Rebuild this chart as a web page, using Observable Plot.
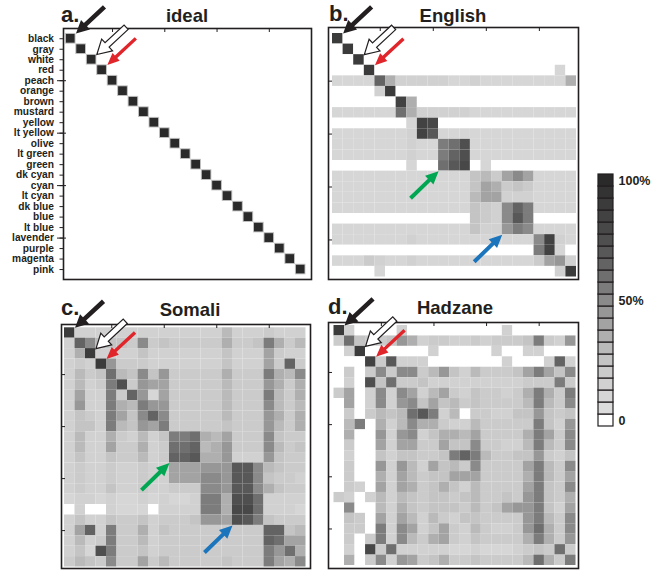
<!DOCTYPE html>
<html><head><meta charset="utf-8">
<script src="https://cdn.jsdelivr.net/npm/d3@7"></script>
<script src="https://cdn.jsdelivr.net/npm/@observablehq/plot@0.6"></script>
<style>
body{margin:0;background:#fff;font-family:"Liberation Sans",Arial,sans-serif;}
#root{position:relative;width:651px;height:573px;overflow:hidden;background:#fff;}
.t{position:absolute;font-weight:bold;color:#231f20;white-space:nowrap;}
</style></head><body><div id="root"></div>
<script>
// ---------- data ----------
const colorNames = ["black","gray","white","red","peach","orange","brown","mustard","yellow","lt yellow","olive","lt green","green","dk cyan","cyan","lt cyan","dk blue","blue","lt blue","lavender","purple","magenta","pink"];
const majorTickNames = ["peach","lt yellow","cyan","lavender"];
const idealDiagonal = [100,100,100,100,100,100,100,100,100,100,100,100,100,100,100,100,100,100,100,100,100,100,100];

const english = [
[90,0,0,0,0,0,0,0,0,0,0,0,0,0,0,0,0,0,0,0,0,0,0],
[0,90,0,0,0,0,0,0,0,0,0,0,0,0,0,0,0,0,0,0,0,0,0],
[0,0,90,0,0,0,0,0,0,0,0,0,0,0,0,0,0,0,0,0,0,0,0],
[0,0,0,90,0,0,0,0,0,0,0,0,0,0,0,0,0,0,0,0,0,10,0],
[10,10,10,10,65,35,15,15,15,15,15,10,10,15,10,10,10,10,10,10,10,10,35],
[0,0,0,0,15,90,0,0,0,0,0,0,0,0,0,0,0,0,0,0,0,0,0],
[0,0,0,0,0,0,85,35,0,0,0,0,0,0,0,0,0,0,0,0,0,0,0],
[10,10,10,10,10,10,60,35,15,15,15,15,15,10,10,10,10,10,10,10,10,10,10],
[0,0,0,0,0,0,0,10,85,80,0,0,0,0,0,0,0,0,0,0,0,0,0],
[10,10,10,10,10,10,10,15,85,70,10,10,10,10,10,10,10,10,10,10,10,10,10],
[10,10,10,10,10,10,10,15,10,10,55,60,75,10,10,10,10,10,10,10,10,10,10],
[10,10,10,10,10,10,10,15,10,10,55,65,75,10,10,10,10,10,10,10,10,10,10],
[0,0,0,0,0,0,0,10,0,0,60,70,80,0,10,0,0,0,0,0,0,0,0],
[10,10,10,10,10,10,10,10,10,10,10,10,10,25,30,20,40,50,40,10,10,10,10],
[10,10,10,10,10,10,10,10,10,10,10,10,10,25,40,35,20,25,20,10,10,10,10],
[10,10,10,10,10,10,10,10,10,10,10,10,10,30,40,40,15,15,15,10,10,10,10],
[10,10,10,10,10,10,10,10,10,10,10,10,10,25,20,15,50,65,55,10,10,10,10],
[0,0,0,0,0,0,0,0,0,0,0,0,0,25,20,15,50,70,55,0,0,0,0],
[10,10,10,10,10,10,10,10,10,10,10,10,10,25,15,15,45,55,50,10,10,10,10],
[10,10,10,10,10,10,10,15,10,10,10,10,10,10,10,10,10,10,10,50,85,15,10],
[0,0,0,0,0,0,0,0,0,0,0,0,0,0,0,0,0,0,0,55,85,10,0],
[10,10,10,20,15,10,10,15,10,10,10,10,10,10,10,10,10,10,10,20,40,45,15],
[0,0,0,0,10,0,0,0,0,0,0,0,0,0,0,0,0,0,0,0,0,15,90]
];

const somali = [
[90,15,15,15,15,15,15,15,15,15,15,15,15,15,15,30,15,15,15,20,15,15,15],
[15,65,50,30,25,25,20,50,20,25,20,20,20,20,20,35,20,20,25,55,35,20,30],
[15,35,90,15,15,15,15,25,15,15,15,15,15,15,15,25,15,15,15,40,20,15,15],
[15,20,15,90,45,20,20,20,15,15,15,15,15,15,15,25,15,15,15,40,20,65,20],
[15,30,20,25,60,30,25,50,25,45,20,20,20,20,20,35,20,20,20,55,35,30,50],
[15,30,15,20,55,75,20,45,40,40,20,20,20,20,20,30,20,20,20,45,35,20,35],
[15,40,15,15,55,20,65,45,10,40,20,20,20,20,20,30,20,20,20,55,30,20,35],
[15,45,15,15,55,35,30,55,45,45,20,20,20,20,20,30,20,20,20,50,30,20,30],
[15,25,20,15,55,40,25,50,65,50,20,20,20,20,20,30,20,20,20,45,35,20,35],
[15,25,25,15,55,30,25,45,40,55,20,20,20,20,20,25,20,20,20,45,30,20,35],
[15,30,15,15,35,20,15,30,15,25,55,55,60,35,30,40,20,20,20,50,25,20,20],
[15,30,15,15,40,20,20,35,15,20,60,60,65,30,35,45,20,20,20,50,30,20,25],
[15,25,15,15,25,20,20,30,15,20,65,65,70,35,35,45,15,15,15,45,25,20,20],
[15,20,15,15,20,15,15,20,15,15,40,40,40,45,45,45,70,70,50,30,25,20,20],
[15,20,15,15,20,15,15,20,15,15,40,40,40,50,50,45,70,70,50,25,20,20,15],
[15,20,15,15,25,15,15,20,15,15,20,20,20,50,50,45,70,70,50,35,25,20,20],
[10,15,15,10,15,10,10,15,10,15,10,10,15,55,55,35,75,75,60,15,15,15,15],
[0,15,0,0,15,10,10,10,0,15,15,15,15,55,55,35,80,80,60,15,15,15,10],
[15,25,15,15,25,20,20,25,15,20,20,20,25,45,45,40,75,70,55,25,20,20,20],
[15,40,65,15,55,20,20,35,15,25,20,20,20,20,20,20,20,20,20,65,65,25,30],
[15,30,15,20,55,20,20,30,15,20,20,20,20,20,20,20,20,20,20,65,60,40,40],
[15,25,10,75,55,20,20,25,15,20,20,20,20,20,20,20,20,20,20,55,45,60,35],
[20,30,25,20,50,20,20,40,20,30,20,20,20,20,20,25,20,20,20,55,40,35,50]
];

const hadzane = [
[90,15,0,0,0,0,15,0,0,0,0,0,0,0,0,0,15,0,0,0,0,0,0],
[20,60,25,20,20,25,45,35,15,20,20,15,15,20,15,20,20,20,25,55,20,15,45],
[0,15,90,0,0,0,0,0,0,15,0,0,0,0,0,15,0,0,15,15,0,0,0],
[0,0,0,85,20,70,15,15,15,0,0,0,0,0,0,0,15,0,0,0,15,65,15],
[0,20,0,20,50,20,50,50,20,30,45,25,15,30,20,20,20,25,40,55,40,25,50],
[0,15,0,75,25,60,20,20,25,15,15,15,15,15,15,15,15,15,20,20,20,55,20],
[20,40,0,15,50,15,50,40,15,30,40,20,15,25,20,20,15,20,35,55,35,20,55],
[0,40,0,15,50,15,45,50,25,40,25,30,20,25,20,20,20,20,30,55,30,20,50],
[0,20,0,20,30,25,30,60,70,55,15,30,0,20,20,15,15,25,25,45,25,20,25],
[0,30,55,0,35,15,30,50,35,35,20,15,15,30,20,20,20,20,20,55,25,15,45],
[0,35,0,0,45,15,45,50,15,25,35,35,30,40,20,20,20,20,35,55,40,20,50],
[0,20,0,0,40,15,40,40,20,20,40,25,25,50,20,20,15,15,30,55,30,20,50],
[0,15,0,0,25,15,25,25,20,20,25,55,65,55,30,20,20,25,25,45,20,15,25],
[0,20,0,0,45,15,45,30,15,40,25,30,20,50,20,20,20,20,40,55,30,20,50],
[0,20,0,0,35,15,40,30,20,25,25,40,40,40,20,20,20,20,35,55,30,20,40],
[0,20,15,0,40,15,40,35,20,25,35,25,15,30,20,20,20,20,40,55,25,20,50],
[20,15,0,15,30,15,30,25,20,25,25,20,25,30,20,20,25,20,45,55,25,20,35],
[0,50,0,0,30,15,35,25,20,25,25,25,20,30,20,25,40,45,45,55,25,15,40],
[0,25,20,0,40,15,40,30,15,30,20,15,25,25,20,20,20,20,45,55,30,20,50],
[0,20,20,0,55,15,50,40,15,25,40,20,15,30,20,15,15,20,45,60,35,20,50],
[0,20,0,20,55,15,50,30,20,35,40,20,15,25,20,20,20,20,35,55,35,20,45],
[0,15,0,80,20,60,15,15,15,15,15,10,10,15,10,10,10,15,20,25,20,60,20],
[0,35,0,20,50,15,45,40,20,25,35,20,20,25,20,20,20,20,30,60,35,20,55]
];

const scaleSteps = [0,5,10,15,20,25,30,35,40,45,50,55,60,65,70,75,80,85,90,95,100];
const scaleLabels = [{step:0, text:"0"},{step:50, text:"50%"},{step:100, text:"100%"}];
const diagArrowTargets = ["black","white","red"];
const blockArrowTargets = [{col:"olive", row:"green", kind:"green"},{col:"dk blue", row:"lt blue", kind:"blue"}];

// ---------- styling ----------
const greys = ["#ffffff","#dcdcdc","#d6d6d6","#d1d1d1","#cbcbcb","#c4c4c4","#bababa","#afafaf","#a3a3a3","#979797","#8a8a8a","#7c7c7c","#6f6f6f","#636363","#585858","#4f4f4f","#484848","#424242","#3b3b3b","#333333","#2a2a2a"];
const ink = "#231f20";
const colorOpts = {type:"threshold", domain: scaleSteps.slice(1).map(s => s - 2.5), range: greys};
const arrowStyle = {
  black:{fill:ink, stroke:"none", sw:0, shaft:4.6, headW:13, headL:13, len:39},
  white:{fill:"#fff", stroke:ink, sw:1.2, shaft:6, headW:16, headL:14, len:40},
  red:{fill:"#e0252b", stroke:"none", sw:0, shaft:3.4, headW:10.5, headL:12, len:39},
  green:{fill:"#00a651", stroke:"none", sw:0, shaft:4, headW:12, headL:13, len:39},
  blue:{fill:"#1b75bc", stroke:"none", sw:0, shaft:4, headW:12, headL:13, len:39}
};
function arrowShape(s){
  return {draw(ctx, l){
    const a = s.shaft/2, h = s.headW/2, b = -(l - s.headL);
    ctx.moveTo(-a,0); ctx.lineTo(-a,b); ctx.lineTo(-h,b); ctx.lineTo(0,-l);
    ctx.lineTo(h,b); ctx.lineTo(a,b); ctx.lineTo(a,0); ctx.closePath();
  }};
}
function arrowMark(data, kind, rotate, xf, yf){
  const s = arrowStyle[kind];
  return Plot.vector(data, {x:xf, y:yf, length:s.len, rotate, anchor:"end", shape:arrowShape(s),
    fill:s.fill, stroke:s.stroke, strokeWidth:s.sw, strokeLinejoin:"miter"});
}
const idx = name => colorNames.indexOf(name);
function cellsOf(m){ const out=[]; m.forEach((row,r)=>row.forEach((v,c)=>out.push({r,c,v}))); return out; }

const root = document.getElementById("root");

function panel(o){
  const [FL,FT,FR,FB] = o.frame, [CL,CT,CR,CB] = o.cellsBox, [SL,ST,SR,SB] = o.svg;
  const ux = (CR-CL)/23, uy = (CB-CT)/23;
  const xd = [-(CL-FL)/ux, 23 + (FR-CR)/ux];
  const yd = [-(CT-FT)/uy, 23 + (FB-CB)/uy];
  const tickIn = 4/uy, tickInX = 4/ux;
  const marks = [
    Plot.rect(o.cells, {x1:"c", x2:d=>d.c+1, y1:"r", y2:d=>d.r+1, fill:"v",
      stroke:o.cellStroke || "none", strokeWidth:o.cellStrokeWidth || 0, inset:o.inset || 0}),
    Plot.frame({stroke:ink, strokeWidth:1.6}),
    Plot.ruleX(majorTickNames, {x:d=>idx(d)+0.5, y1:yd[0], y2:yd[0]+tickIn, stroke:ink, strokeWidth:1})
  ];
  if (o.labels){
    marks.push(Plot.ruleY(colorNames, {y:d=>idx(d)+0.5, x1:xd[0]-3.5/ux, x2:xd[0], stroke:ink, strokeWidth:1}));
    marks.push(Plot.ruleY(majorTickNames, {y:d=>idx(d)+0.5, x1:xd[0]-6/ux, x2:xd[0]+3/ux, stroke:ink, strokeWidth:1}));
    marks.push(Plot.text(colorNames, {x:xd[0], y:d=>idx(d)+0.5, text:d=>d, textAnchor:"end", dx:-9.5,
      fontSize:10.2, fontWeight:"bold", fill:ink}));
  } else {
    marks.push(Plot.ruleY(majorTickNames, {y:d=>idx(d)+0.5, x1:xd[0], x2:xd[0]+tickInX, stroke:ink, strokeWidth:1}));
  }
  // arrows to diagonal cells: tip at top-right corner of the cell
  diagArrowTargets.forEach(name => {
    marks.push(arrowMark([name], name, 227, d=>idx(d)+1, d=>idx(d)));
  });
  if (o.blockArrows){
    blockArrowTargets.forEach(t => {
      marks.push(arrowMark([t], t.kind, 46, d=>idx(d.col), d=>idx(d.row)+1));
    });
  }
  const svg = Plot.plot({
    width: SR-SL, height: SB-ST,
    marginLeft: FL-SL, marginTop: FT-ST, marginRight: SR-FR, marginBottom: SB-FB,
    x:{domain:xd, axis:null}, y:{domain:yd, reverse:true, axis:null},
    color: colorOpts,
    style:{fontFamily:"'Liberation Sans', Arial, sans-serif", overflow:"visible", background:"transparent"},
    marks
  });
  svg.style.position = "absolute"; svg.style.left = SL+"px"; svg.style.top = ST+"px";
  root.appendChild(svg);
}

panel({cells: idealDiagonal.map((v,i)=>({r:i,c:i,v})), frame:[63,28,311,279], cellsBox:[65,33,305.4,274.3],
  svg:[0,0,320,285], labels:true, cellStroke:"#c4c4c4", cellStrokeWidth:0.9, inset:0.4});
panel({cells: cellsOf(english), frame:[328,27,578,279], cellsBox:[332,33,576,276.5],
  svg:[315,0,590,285], blockArrows:true});
panel({cells: cellsOf(somali), frame:[61,324,310,568], cellsBox:[64,327.3,305.5,566.5],
  svg:[40,290,315,573], blockArrows:true});
panel({cells: cellsOf(hadzane), frame:[328,322,578,568], cellsBox:[333.5,325,575.5,565],
  svg:[315,290,590,573]});

// colour bar
{
  const cb = Plot.plot({
    width:75, height:262, marginLeft:10, marginRight:50, marginTop:5, marginBottom:5,
    x:{domain:[0,1], axis:null}, y:{domain:[0,21], axis:null},
    color: colorOpts,
    style:{fontFamily:"'Liberation Sans', Arial, sans-serif", overflow:"visible", background:"transparent"},
    marks:[
      Plot.rect(scaleSteps, {x1:0, x2:1, y1:(d)=>scaleSteps.indexOf(d), y2:(d)=>scaleSteps.indexOf(d)+1,
        fill:d=>d, stroke:ink, strokeWidth:1.2}),
      Plot.text(scaleLabels, {x:1, y:d=>scaleSteps.indexOf(d.step)+0.5, text:"text", textAnchor:"start", dx:5,
        fontSize:12.5, fontWeight:"bold", fill:ink})
    ]
  });
  cb.style.position="absolute"; cb.style.left="588px"; cb.style.top="169px";
  root.appendChild(cb);
}

// titles and panel letters
function addText(txt, x, baseline, fs, center){
  const d = document.createElement("div");
  d.className = "t"; d.textContent = txt;
  d.style.fontSize = fs+"px"; d.style.lineHeight = fs+"px";
  d.style.top = (baseline - 0.8465*fs)+"px";
  d.style.left = x+"px";
  if (center) d.style.transform = "translateX(-50%)";
  root.appendChild(d);
}
addText("a.", 61, 22.7, 22, false);
addText("b.", 329, 22, 22, false);
addText("c.", 61, 316, 22, false);
addText("d.", 328, 315, 22, false);
addText("ideal", 187, 23, 18.5, true);
addText("English", 453, 23, 18.5, true);
addText("Somali", 190, 316.5, 18.5, true);
addText("Hadzane", 455, 315, 18.5, true);
</script></body></html>
